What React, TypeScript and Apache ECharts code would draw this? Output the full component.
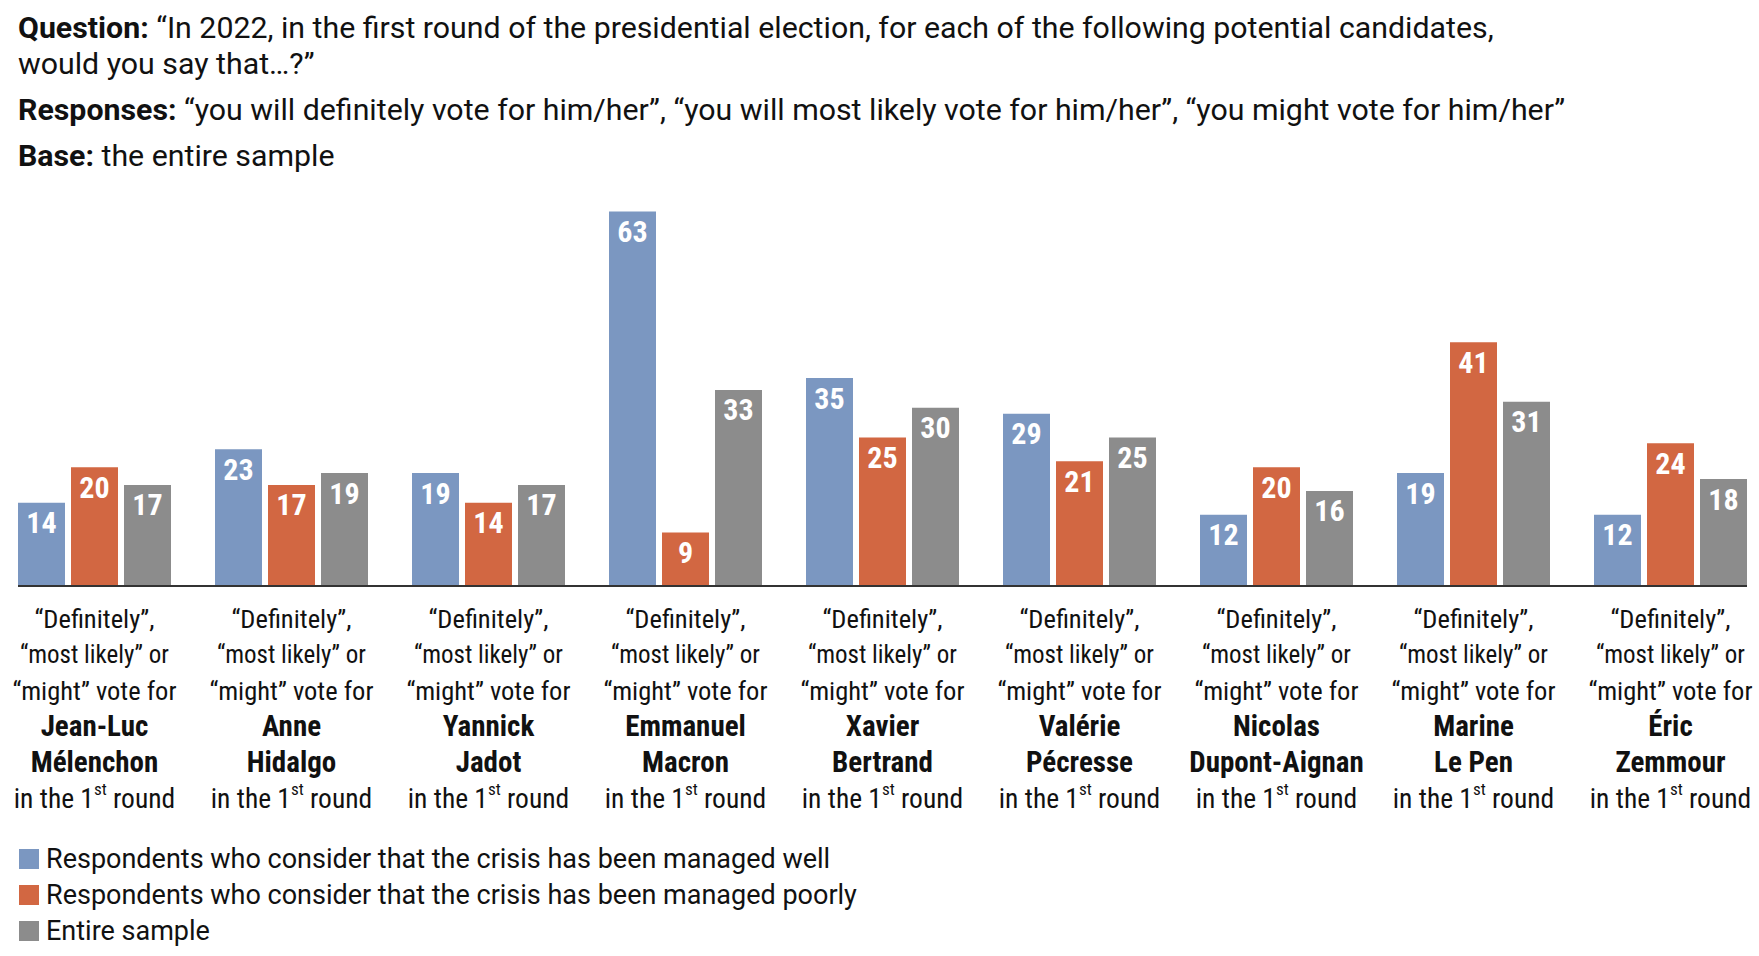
import React, { useEffect, useRef } from 'react';
import * as echarts from 'echarts';

// candidate names, two lines each (the bold part of the axis label)
const candidates = [
  'Jean-Luc\nMélenchon',
  'Anne\nHidalgo',
  'Yannick\nJadot',
  'Emmanuel\nMacron',
  'Xavier\nBertrand',
  'Valérie\nPécresse',
  'Nicolas\nDupont-Aignan',
  'Marine\nLe Pen',
  'Éric\nZemmour',
];

const managedWell = [14, 23, 19, 63, 35, 29, 12, 19, 12];
const managedPoorly = [20, 17, 14, 9, 25, 21, 20, 41, 24];
const entireSample = [17, 19, 17, 33, 30, 25, 16, 31, 18];

const seriesNames = [
  'Respondents who consider that the crisis has been managed well',
  'Respondents who consider that the crisis has been managed poorly',
  'Entire sample',
];
const colors = ['#7b97c1', '#d26742', '#8c8c8c'];

const FONT = "'Roboto Condensed', 'DejaVu Sans Condensed', sans-serif";
const WIDE_FONT = "Roboto, 'Liberation Sans', sans-serif";
const BAR_W = 47;
const BAR_GAP = 6;

const App: React.FC = () => {
  const chartRef = useRef<HTMLDivElement>(null);

  useEffect(() => {
    document.body.style.margin = '0';
    if (!chartRef.current) return;
    const chart = echarts.init(chartRef.current, undefined, { renderer: 'svg' });

    const titleRich = {
      b: { fontFamily: WIDE_FONT, fontSize: 30.3, fontWeight: 'bold', color: '#111', lineHeight: 36 },
      t: { fontFamily: WIDE_FONT, fontSize: 30.3, fontWeight: 'normal', color: '#111', lineHeight: 36 },
    };

    const barSeries = [managedWell, managedPoorly, entireSample].map((data, i) => ({
      name: seriesNames[i],
      type: 'bar',
      data,
      barWidth: BAR_W,
      barGap: (BAR_GAP / BAR_W) * 100 + '%',
      itemStyle: { color: colors[i] },
      label: {
        show: true,
        position: 'insideTop',
        distance: 5,
        color: '#fff',
        fontFamily: FONT,
        fontWeight: 'bold',
        fontSize: 30,
      },
    }));

    const option = {
      animation: false,
      title: [
        {
          left: 18,
          top: 9,
          padding: 0,
          text:
            '{b|Question:}{t| “In 2022, in the first round of the presidential election, for each of the following potential candidates,}\n{t|would you say that…?”}',
          textStyle: { rich: titleRich },
        },
        {
          left: 18,
          top: 91,
          padding: 0,
          text:
            '{b|Responses:}{t| “you will definitely vote for him/her”, “you will most likely vote for him/her”, “you might vote for him/her”}',
          textStyle: { rich: titleRich },
        },
        {
          left: 18,
          top: 137,
          padding: 0,
          text: '{b|Base:}{t| the entire sample}',
          textStyle: { rich: titleRich },
        },
      ],
      legend: {
        orient: 'vertical',
        left: 19,
        top: 844,
        padding: 0,
        icon: 'rect',
        itemWidth: 20,
        itemHeight: 20,
        itemGap: 6,
        data: seriesNames,
        textStyle: {
          fontFamily: WIDE_FONT,
          fontSize: 27,
          color: '#111',
          lineHeight: 30,
          padding: [0, 0, 0, 2],
        },
      },
      grid: {
        left: -4,
        width: 1773,
        top: 170,
        bottom: 370,
        outerBoundsMode: 'none',
        containLabel: false,
      },
      xAxis: {
        type: 'category',
        data: candidates,
        axisLine: { show: false },
        axisTick: { show: false },
        axisLabel: {
          interval: 0,
          margin: 14,
          hideOverlap: false,
          formatter: (value: string) => {
            const [first, last] = value.split('\n');
            return [
              '{n|“Definitely”,}',
              '{m|“most likely” or}',
              '{n|“might” vote for}',
              `{b|${first}}`,
              `{b|${last}}`,
              '{r|in the 1}{s|st}{r| round}',
            ].join('\n');
          },
          rich: {
            n: { fontFamily: FONT, fontSize: 26.5, color: '#111', lineHeight: 36 },
            m: { fontFamily: FONT, fontSize: 25, color: '#111', lineHeight: 36 },
            r: { fontFamily: FONT, fontSize: 27.5, color: '#111', lineHeight: 36 },
            b: { fontFamily: FONT, fontSize: 29, fontWeight: 'bold', color: '#111', lineHeight: 36 },
            s: { fontFamily: FONT, fontSize: 17, color: '#111', lineHeight: 22, verticalAlign: 'top' },
          },
        },
      },
      yAxis: {
        type: 'value',
        min: 0,
        max: 70,
        show: false,
        splitLine: { show: false },
      },
      series: barSeries,
    };

    chart.setOption(option);

    // baseline spanning from the first bar group to the last one
    const half = (3 * BAR_W + 2 * BAR_GAP) / 2;
    const xFirst = chart.convertToPixel({ xAxisIndex: 0 }, 0) as number;
    const xLast = chart.convertToPixel({ xAxisIndex: 0 }, candidates.length - 1) as number;
    const yZero = chart.convertToPixel({ yAxisIndex: 0 }, 0) as number;
    chart.setOption({
      graphic: [
        {
          type: 'line',
          z: 10,
          shape: { x1: xFirst - half, y1: yZero, x2: xLast + half, y2: yZero },
          style: { stroke: '#333', lineWidth: 2 },
        },
      ],
    });

    return () => {
      chart.dispose();
    };
  }, []);

  return <div ref={chartRef} style={{ width: 1759, height: 956, background: '#fff' }} />;
};

export default App;
